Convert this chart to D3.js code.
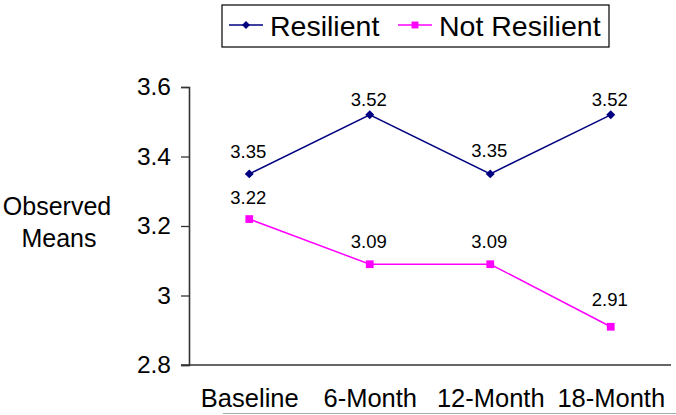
<!DOCTYPE html>
<html>
<head>
<meta charset="utf-8">
<script src="https://cdn.jsdelivr.net/npm/d3@7"></script>
<style>
  html, body { margin: 0; padding: 0; background: #fff; }
  svg { display: block; font-family: "Liberation Sans", Arial, sans-serif; }
</style>
</head>
<body>
<svg id="chart" width="676" height="415"></svg>
<script>
const categories = ["Baseline", "6-Month", "12-Month", "18-Month"];
const seriesNames = ["Resilient", "Not Resilient"];
const resilient = [3.35, 3.52, 3.35, 3.52];
const notResilient = [3.22, 3.09, 3.09, 2.91];
const yTicks = [2.8, 3.0, 3.2, 3.4, 3.6];
const yTickLabels = ["2.8", "3", "3.2", "3.4", "3.6"];

const colors = ["#000080", "#FF00FF"];
const diamond = { draw(ctx, size) { const r = Math.sqrt(size / 2); ctx.moveTo(0, -r); ctx.lineTo(r, 0); ctx.lineTo(0, r); ctx.lineTo(-r, 0); ctx.closePath(); } };
const series = [
  { name: seriesNames[0], values: resilient, color: colors[0], shape: diamond, size: 40 },
  { name: seriesNames[1], values: notResilient, color: colors[1], shape: d3.symbolSquare, size: 60 }
];
// label offsets above points (px) — styling only
const labelGap = [[16, 9, 17, 9], [15, 16, 16, 21]];

const svg = d3.select("#chart");
const x = d3.scalePoint().domain(categories).range([189, 671]).padding(0.5);
const y = d3.scaleLinear().domain([2.8, 3.6]).range([365, 87]);

// Y axis
const yAxis = d3.axisLeft(y).tickValues(yTicks)
  .tickFormat((d, i) => yTickLabels[i]).tickSize(8).tickPadding(10);
const gy = svg.append("g").attr("transform", "translate(189,0)").call(yAxis);
gy.select(".domain").attr("stroke", "#333").attr("stroke-width", 1.6);
gy.selectAll(".tick line").attr("stroke", "#333").attr("stroke-width", 1.3);
gy.selectAll(".tick text").attr("font-size", 24.5).attr("fill", "#000")
  .attr("font-family", "Liberation Sans, Arial, sans-serif");

// X axis
const xAxis = d3.axisBottom(x).tickSize(0).tickPadding(24);
const gx = svg.append("g").attr("transform", "translate(0,365)").call(xAxis);
gx.select(".domain").attr("stroke", "#333").attr("stroke-width", 1.6)
  .attr("d", "M181,0H671");
gx.selectAll(".tick text").attr("font-size", 25.5).attr("fill", "#000")
  .attr("font-family", "Liberation Sans, Arial, sans-serif");

// Y title
const yTitle = svg.append("text").attr("font-size", 25).attr("text-anchor", "middle").attr("fill", "#000");
yTitle.append("tspan").attr("x", 57).attr("y", 215).text("Observed");
yTitle.append("tspan").attr("x", 59).attr("y", 247).text("Means");

// Lines and markers
const line = d3.line().x((d, i) => x(categories[i])).y(d => y(d));
series.forEach((s, si) => {
  svg.append("path").datum(s.values)
    .attr("fill", "none").attr("stroke", s.color).attr("stroke-width", 1.5)
    .attr("d", line);
  svg.selectAll(null).data(s.values).enter().append("path")
    .attr("transform", (d, i) => `translate(${x(categories[i])},${y(d)})`)
    .attr("d", d3.symbol().type(s.shape).size(s.size))
    .attr("fill", s.color);
  svg.selectAll(null).data(s.values).enter().append("text")
    .attr("x", (d, i) => x(categories[i]) - 1)
    .attr("y", (d, i) => y(d) - labelGap[si][i])
    .attr("text-anchor", "middle").attr("font-size", 18.5).attr("fill", "#000")
    .text(d => d.toFixed(2));
});

// Legend
const lg = svg.append("g");
lg.append("rect").attr("x", 222).attr("y", 5).attr("width", 387).attr("height", 42)
  .attr("fill", "#fff").attr("stroke", "#000").attr("stroke-width", 1.2);
const legendPos = [{ lx: 229, tx: 270 }, { lx: 398, tx: 439 }];
series.forEach((s, i) => {
  const p = legendPos[i];
  lg.append("line").attr("x1", p.lx).attr("x2", p.lx + 34).attr("y1", 25).attr("y2", 25)
    .attr("stroke", s.color).attr("stroke-width", 1.5);
  lg.append("path").attr("transform", `translate(${p.lx + 17},25)`)
    .attr("d", d3.symbol().type(s.shape).size(s.size * 0.8)).attr("fill", s.color);
  lg.append("text").attr("x", p.tx).attr("y", 36).attr("font-size", 28.5).attr("fill", "#000")
    .text(s.name);
});

// faint bottom rule in the reference
svg.append("line").attr("x1", 223).attr("x2", 676).attr("y1", 413.5).attr("y2", 413.5)
  .attr("stroke", "#aaa").attr("stroke-width", 1);
</script>
</body>
</html>
